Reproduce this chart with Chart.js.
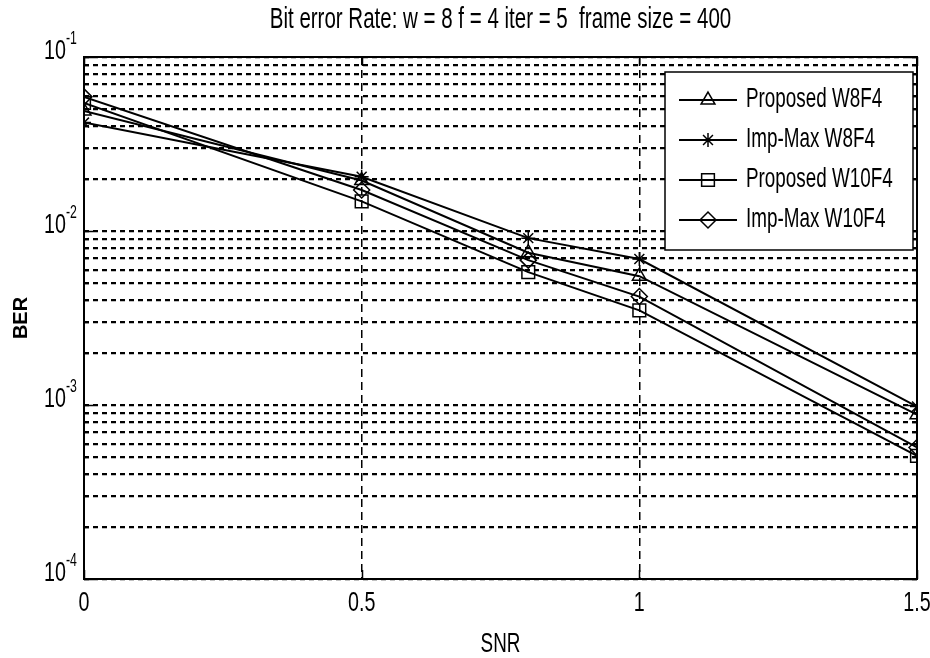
<!DOCTYPE html>
<html>
<head>
<meta charset="utf-8">
<title>Bit error Rate</title>
<script src="https://cdn.jsdelivr.net/npm/chart.js@4.4.1/dist/chart.umd.min.js"></script>
<style>
  html, body { margin: 0; padding: 0; background: #fff; }
  #berChart { display: block; }
</style>
</head>
<body>
<canvas id="berChart" width="930" height="658"></canvas>
<script>
// SNR points where BER was measured
const snr = [0, 0.5, 0.8, 1, 1.5];

// BER per decoder
const proposedW8F4 = [0.049, 0.0195, 0.0075, 0.0055, 0.00088];
const impMaxW8F4 = [0.042, 0.0205, 0.0091, 0.0069, 0.00098];
const proposedW10F4 = [0.0544, 0.0148, 0.0058, 0.0035, 0.00051];
const impMaxW10F4 = [0.059, 0.0172, 0.0068, 0.0042, 0.00057];

const seriesNames = ["Proposed W8F4", "Imp-Max W8F4", "Proposed W10F4", "Imp-Max W10F4"];
const seriesValues = [proposedW8F4, impMaxW8F4, proposedW10F4, impMaxW10F4];

const xTicks = [0, 0.5, 1, 1.5];
const yDecades = [-4, -3, -2, -1];

const titleText = "Bit error Rate: w = 8 f = 4 iter = 5  frame size = 400";
const xLabel = "SNR";
const yLabel = "BER";

// marker look for each series
const markerStyle = [
    { pointStyle: "triangle", radius: 8 },
    { pointStyle: "star", radius: 7 },
    { pointStyle: "rect", radius: 9 },
    { pointStyle: "rectRot", radius: 8 },
];

// minor log grid: 1..9 x 10^n, then the top decade
const yGrid = [];
yDecades.slice(0, -1).forEach(d => {
    for (let m = 1; m <= 9; m++) yGrid.push(m * Math.pow(10, d));
});
yGrid.push(Math.pow(10, yDecades[yDecades.length - 1]));

const FONT = "'Liberation Sans', Arial, sans-serif";

// condensed, slightly tall text like the old figure export
function narrowText(ctx, text, x, y, size, align, baseline) {
    ctx.save();
    ctx.translate(x, y);
    ctx.scale(0.82, 1.18);
    ctx.font = size + "px " + FONT;
    ctx.textAlign = align || "center";
    ctx.textBaseline = baseline || "middle";
    ctx.fillStyle = "#000";
    ctx.fillText(text, 0, 0);
    ctx.restore();
}

const frame = {
    id: "frame",
    afterDraw(chart) {
        const ctx = chart.ctx;
        const area = chart.chartArea;
        const xs = chart.scales.x;
        const ys = chart.scales.y;

        ctx.save();
        ctx.strokeStyle = "#000";

        // inward tick marks on all four sides
        ctx.lineWidth = 1.5;
        yGrid.forEach(v => {
            const py = Math.round(ys.getPixelForValue(v)) + 0.5;
            const major = Math.abs(Math.log10(v) - Math.round(Math.log10(v))) < 1e-9;
            const len = major ? 9 : 5;
            ctx.beginPath();
            ctx.moveTo(area.left, py); ctx.lineTo(area.left + len, py);
            ctx.moveTo(area.right, py); ctx.lineTo(area.right - len, py);
            ctx.stroke();
        });
        xTicks.forEach(v => {
            const px = Math.round(xs.getPixelForValue(v)) + 0.5;
            ctx.beginPath();
            ctx.moveTo(px, area.bottom); ctx.lineTo(px, area.bottom - 9);
            ctx.moveTo(px, area.top); ctx.lineTo(px, area.top + 9);
            ctx.stroke();
        });

        // axes box
        ctx.lineWidth = 2;
        ctx.strokeRect(area.left, area.top, area.right - area.left, area.bottom - area.top);

        // legend
        const box = { left: 665, top: 72, right: 913, bottom: 250 };
        ctx.fillStyle = "#fff";
        ctx.fillRect(box.left, box.top, box.right - box.left, box.bottom - box.top);
        ctx.lineWidth = 1.5;
        ctx.strokeRect(box.left, box.top, box.right - box.left, box.bottom - box.top);
        seriesNames.forEach((name, i) => {
            const ry = 100 + i * 40;
            ctx.lineWidth = 2;
            ctx.strokeStyle = "#000";
            ctx.beginPath();
            ctx.moveTo(679, ry); ctx.lineTo(737, ry);
            ctx.stroke();
            ctx.fillStyle = "rgba(0,0,0,0)";
            ctx.lineWidth = 1.5;
            Chart.helpers.drawPoint(ctx, {
                pointStyle: markerStyle[i].pointStyle,
                radius: markerStyle[i].radius,
                rotation: 0,
                borderWidth: 1.5,
            }, 708, ry);
            narrowText(ctx, name, 746, ry, 23, "left");
        });

        // title and axis labels
        narrowText(ctx, titleText, (area.left + area.right) / 2, 20, 25);
        xTicks.forEach(v => {
            narrowText(ctx, String(v), xs.getPixelForValue(v), 603, 24);
        });
        narrowText(ctx, xLabel, (area.left + area.right) / 2, 645, 23);

        yDecades.forEach(d => {
            const py = ys.getPixelForValue(Math.pow(10, d));
            narrowText(ctx, "10", 66, py - 6, 24, "right");
            narrowText(ctx, String(d), 66, py - 18, 15, "left");
        });

        ctx.save();
        ctx.translate(21, (area.top + area.bottom) / 2);
        ctx.rotate(-Math.PI / 2);
        ctx.font = "bold 20px " + FONT;
        ctx.textAlign = "center";
        ctx.textBaseline = "middle";
        ctx.fillStyle = "#000";
        ctx.fillText(yLabel, 0, 0);
        ctx.restore();

        ctx.restore();
    }
};

const datasets = seriesNames.map((name, i) => ({
    label: name,
    data: snr.map((x, j) => ({ x: x, y: seriesValues[i][j] })),
    borderColor: "#000",
    borderWidth: 2,
    pointStyle: markerStyle[i].pointStyle,
    pointRadius: markerStyle[i].radius,
    pointBorderWidth: 1.5,
    pointBorderColor: "#000",
    pointBackgroundColor: "rgba(0,0,0,0)",
    tension: 0,
    fill: false,
}));

const config = {
    type: "line",
    data: { datasets: datasets },
    options: {
        responsive: false,
        animation: false,
        events: [],
        layout: { padding: { left: 84, right: 13, top: 57, bottom: 79 } },
        plugins: {
            legend: { display: false },
            title: { display: false },
            tooltip: { enabled: false },
        },
        scales: {
            x: {
                type: "linear",
                min: xTicks[0],
                max: xTicks[xTicks.length - 1],
                afterBuildTicks: s => { s.ticks = xTicks.map(v => ({ value: v })); },
                afterFit: s => { s.height = 0; },
                ticks: { display: false },
                grid: { color: "#000", lineWidth: 1.5, drawTicks: false },
                border: { display: false, dash: [8, 5] },
            },
            y: {
                type: "logarithmic",
                min: Math.pow(10, yDecades[0]),
                max: Math.pow(10, yDecades[yDecades.length - 1]),
                afterBuildTicks: s => { s.ticks = yGrid.map(v => ({ value: v })); },
                afterFit: s => { s.width = 0; },
                ticks: { display: false, autoSkip: false },
                grid: { color: "#000", lineWidth: 2.2, drawTicks: false },
                border: { display: false, dash: [5, 4] },
            },
        },
    },
    plugins: [frame],
};

const berChart = new Chart(document.getElementById("berChart"), config);
</script>
</body>
</html>
